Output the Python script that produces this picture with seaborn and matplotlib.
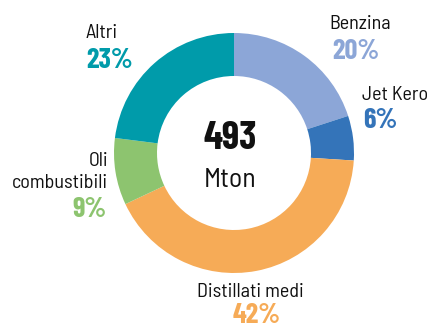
import matplotlib
matplotlib.use("Agg")
import matplotlib.pyplot as plt
from matplotlib import font_manager
import seaborn as sns

# Refinery output breakdown
categories = ["Benzina", "Jet Kero", "Distillati medi", "Oli\ncombustibili", "Altri"]
shares = [20, 6, 42, 9, 23]
total_value = "493"
total_unit = "Mton"
colors = ["#8CA6D7", "#3474B9", "#F6AB57", "#8DC46F", "#009BAA"]

sns.set_theme(style="white")
available = {f.name for f in font_manager.fontManager.ttflist}


def pick(*names):
    return next((n for n in names if n in available), "DejaVu Sans")


bold_face = pick("Barlow Condensed", "Roboto Condensed", "Archivo Narrow", "Liberation Sans")
text_face = pick("Barlow Semi Condensed", "Barlow Condensed", "Roboto Condensed", "Liberation Sans")
plt.rcParams["font.family"] = [text_face, "DejaVu Sans"]

W, H = 429, 327
fig = plt.figure(figsize=(W / 100, H / 100), dpi=100)
ax = fig.add_axes([0, 0, 1, 1])

cx, cy = 234, H - 153
outer_r, ring_w = 120, 43
ax.pie(shares, colors=sns.color_palette(colors), startangle=90, counterclock=False,
       center=(cx, cy), radius=outer_r, frame=True,
       wedgeprops=dict(width=ring_w, linewidth=0))
ax.set_xlim(0, W)
ax.set_ylim(0, H)
ax.set_aspect("equal")
ax.axis("off")

ink = "#111111"
# centre total
ax.text(230, H - 149, total_value, ha="center", va="baseline", fontsize=28.5,
        fontweight="bold", color=ink, family=[bold_face, "DejaVu Sans"])
ax.text(230.5, H - 187, total_unit, ha="center", va="baseline", fontsize=20,
        color=ink)

# (name x, name baseline, pct x, pct baseline, align)
label_pos = [
    (329, 29, 332, 59, "left"),
    (362, 100, 363, 128, "left"),
    (250, 297, 257, 323, "center"),
    (108, 188, 72, 217, "right"),
    (86, 38, 86, 68, "left"),
]
for name, val, col, (nx, ny, px, py, al) in zip(categories, shares, colors, label_pos):
    ax.text(nx, H - ny, name, ha=al, va="baseline", fontsize=14.5, color=ink,
            multialignment="right", linespacing=1.25)
    pal = "center" if al == "center" else "left"
    ax.text(px, H - py, f"{val}%", ha=pal, va="baseline", fontsize=20.5,
            fontweight="bold", color=col, family=[bold_face, "DejaVu Sans"])

fig.savefig("out.png", dpi=100, facecolor="white")
